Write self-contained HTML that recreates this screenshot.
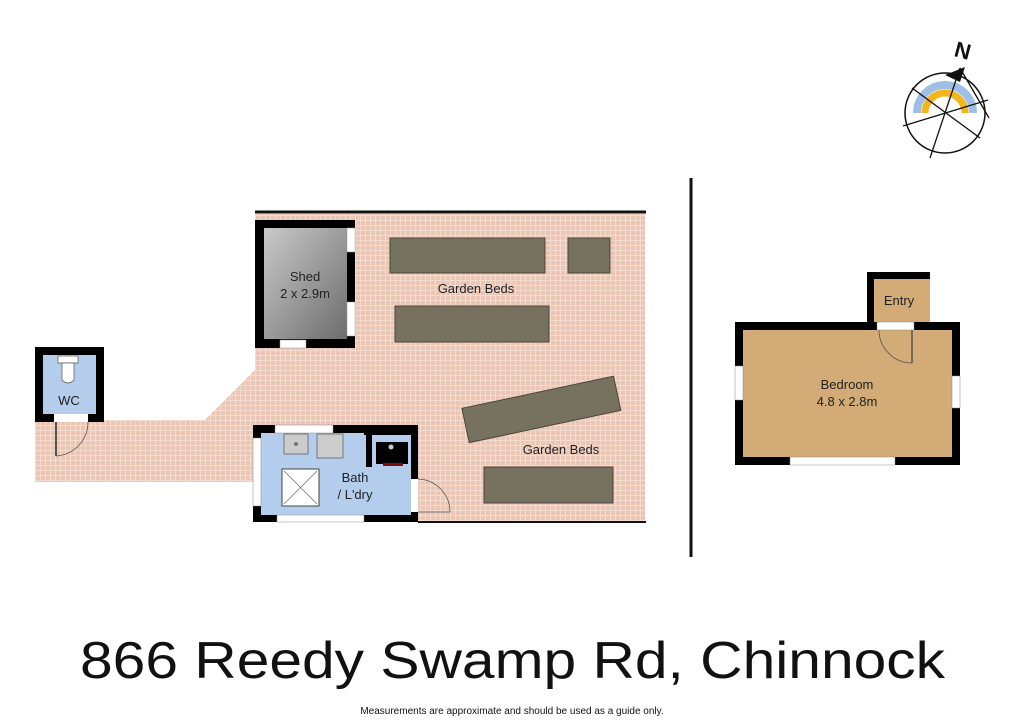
<!DOCTYPE html>
<html><head><meta charset="utf-8"><style>
html,body{margin:0;padding:0;background:#fff;}
svg{display:block;font-family:"Liberation Sans",sans-serif;}
</style></head><body>
<svg width="1024" height="728" viewBox="0 0 1024 728" xmlns="http://www.w3.org/2000/svg">
<defs>
<pattern id="tile" width="5" height="5" patternUnits="userSpaceOnUse">
<rect width="5" height="5" fill="#ebc6b4"/>
<path d="M0 0.5H5M0.5 0V5" stroke="#f3dbcf" stroke-width="1"/>
</pattern>
<linearGradient id="shed" x1="0" y1="0" x2="1" y2="1">
<stop offset="0" stop-color="#c9c9c9"/><stop offset="1" stop-color="#6d6d6d"/>
</linearGradient>
</defs>
<polygon points="255,214 645,214 645,522 255,522 255,482 35,482 35,420 205,420 255,370" fill="url(#tile)"/>
<line x1="255" y1="212" x2="646" y2="212" stroke="#111" stroke-width="3"/>
<line x1="418" y1="522" x2="646" y2="522" stroke="#111" stroke-width="2"/>
<g fill="#77715f" stroke="#4a4638" stroke-width="1">
<rect x="390" y="238" width="155" height="35"/>
<rect x="568" y="238" width="42" height="35"/>
<rect x="395" y="306" width="154" height="36"/>
<rect x="464" y="392" width="155" height="35" transform="rotate(-12 541 410)"/>
<rect x="484" y="467" width="129" height="36"/>
</g>
<text x="476" y="293" font-size="13" text-anchor="middle" fill="#222">Garden Beds</text>
<text x="561" y="454" font-size="13" text-anchor="middle" fill="#222">Garden Beds</text>
<rect x="255" y="220" width="100" height="128" fill="#000"/>
<rect x="264" y="228" width="83" height="111" fill="url(#shed)"/>
<rect x="347" y="228" width="8" height="24" fill="#fff" stroke="#999" stroke-width="0.5"/>
<rect x="347" y="302" width="8" height="34" fill="#fff" stroke="#999" stroke-width="0.5"/>
<rect x="280" y="340" width="26" height="8" fill="#fff" stroke="#999" stroke-width="0.5"/>
<text x="305" y="281" font-size="13" text-anchor="middle" fill="#222">Shed</text>
<text x="305" y="298" font-size="13" text-anchor="middle" fill="#222">2 x 2.9m</text>
<rect x="35" y="347" width="69" height="75" fill="#000"/>
<rect x="43" y="355" width="53" height="59" fill="#b4cdec"/>
<rect x="58" y="356" width="20" height="7" fill="#fff" stroke="#555" stroke-width="0.7"/>
<path d="M62 363 V380 Q68 386 74 380 V363Z" fill="#fff" stroke="#555" stroke-width="0.7"/>
<rect x="54" y="414" width="34" height="8" fill="#fff"/>
<line x1="56" y1="422" x2="56" y2="456" stroke="#555" stroke-width="2"/>
<path d="M56 456 A34 34 0 0 0 88 422" fill="none" stroke="#555" stroke-width="0.8"/>
<text x="69" y="405" font-size="13" text-anchor="middle" fill="#222">WC</text>
<rect x="253" y="425" width="165" height="97" fill="#000"/>
<rect x="261" y="433" width="150" height="82" fill="#b4cdec"/>
<rect x="275" y="425" width="58" height="8" fill="#fff" stroke="#888" stroke-width="0.5"/>
<rect x="253" y="438" width="8" height="68" fill="#fff" stroke="#888" stroke-width="0.5"/>
<rect x="277" y="515" width="87" height="7" fill="#fff" stroke="#888" stroke-width="0.5"/>
<rect x="411" y="479" width="7" height="33" fill="#fff"/>
<path d="M418 479 A33 33 0 0 1 450 512 H418" fill="none" stroke="#555" stroke-width="0.8"/>
<rect x="364" y="427" width="54" height="8" fill="#000"/>
<rect x="366" y="433" width="6" height="34" fill="#000"/>
<rect x="376" y="442" width="32" height="22" fill="#000"/>
<rect x="383" y="463" width="20" height="3" fill="#7a1010"/>
<circle cx="391" cy="447" r="2.5" fill="#ccc"/>
<rect x="284" y="434" width="24" height="20" fill="#ccc" stroke="#555" stroke-width="0.7"/>
<circle cx="296" cy="444" r="2" fill="#777"/>
<rect x="317" y="434" width="26" height="24" fill="#ccc" stroke="#555" stroke-width="0.7"/>
<rect x="282" y="469" width="37" height="37" fill="#fff" stroke="#444" stroke-width="1"/>
<path d="M284 471 L317 504 M317 471 L284 504" stroke="#666" stroke-width="0.7"/>
<text x="355" y="482" font-size="13" text-anchor="middle" fill="#222">Bath</text>
<text x="355" y="499" font-size="13" text-anchor="middle" fill="#222">/ L'dry</text>
<line x1="691" y1="178" x2="691" y2="557" stroke="#111" stroke-width="3"/>
<rect x="867" y="272" width="63" height="54" fill="#000"/>
<rect x="874" y="279" width="56" height="47" fill="#d3ab76"/>
<rect x="735" y="322" width="225" height="143" fill="#000"/>
<rect x="743" y="330" width="209" height="127" fill="#d3ab76"/>
<rect x="877" y="322" width="37" height="8" fill="#fff" stroke="#888" stroke-width="0.5"/>
<line x1="912" y1="330" x2="912" y2="363" stroke="#555" stroke-width="1.5"/>
<path d="M879 330 A33 33 0 0 0 912 363" fill="none" stroke="#555" stroke-width="0.8"/>
<rect x="735" y="366" width="8" height="34" fill="#fff" stroke="#888" stroke-width="0.5"/>
<rect x="952" y="376" width="8" height="32" fill="#fff" stroke="#888" stroke-width="0.5"/>
<rect x="790" y="457" width="105" height="8" fill="#fff" stroke="#888" stroke-width="0.5"/>
<text x="899" y="305" font-size="13" text-anchor="middle" fill="#222">Entry</text>
<text x="847" y="389" font-size="13" text-anchor="middle" fill="#222">Bedroom</text>
<text x="847" y="406" font-size="13" text-anchor="middle" fill="#222">4.8 x 2.8m</text>
<g>
<circle cx="945" cy="113" r="40" fill="#fff" stroke="#111" stroke-width="1.5"/>
<path d="M917 113 A28 28 0 0 1 973 113" fill="none" stroke="#9fbfe6" stroke-width="8"/>
<path d="M925 113 A20 20 0 0 1 965 113" fill="none" stroke="#f2b51c" stroke-width="7"/>
<g stroke="#111" stroke-width="1.3">
<line x1="960" y1="68" x2="930" y2="158"/>
<line x1="912" y1="88" x2="980" y2="138"/>
<line x1="988" y1="100" x2="903" y2="126"/>
<line x1="960" y1="68" x2="989" y2="118"/>
</g>
<polygon points="945,75 965,67 960,82" fill="#111"/>
<text x="955" y="58" font-size="22" font-weight="bold" fill="#111" transform="rotate(15 962 50)">N</text>
</g>
<text x="80" y="678" font-size="52" textLength="865" lengthAdjust="spacingAndGlyphs" fill="#111">866 Reedy Swamp Rd, Chinnock</text>
<text x="512" y="714" font-size="10" text-anchor="middle" fill="#111">Measurements are approximate and should be used as a guide only.</text>
</svg>
</body></html>
